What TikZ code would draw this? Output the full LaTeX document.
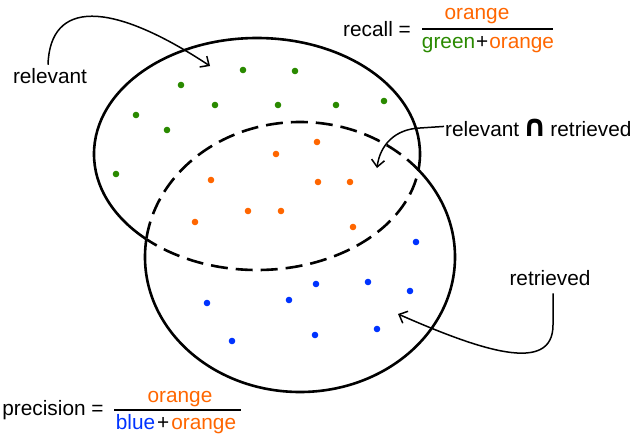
\documentclass[tikz,border=0pt]{standalone}
\usepackage{fontspec}
\setmainfont{Liberation Sans}
\newfontfamily\symfont{DejaVu Sans}
\usetikzlibrary{arrows.meta}
\definecolor{dgreen}{RGB}{42,138,0}
\definecolor{dorange}{RGB}{255,102,0}
\definecolor{dblue}{RGB}{0,51,255}
\begin{document}
\begin{tikzpicture}[x=1pt,y=-1pt,
  lbl/.style={inner sep=0pt,anchor=base,font=\fontsize{20.8}{24}\selectfont},
  setline/.style={line width=2.6pt},
  dashline/.style={line width=2.6pt,dash pattern=on 17pt off 8pt},
  pointer/.style={line width=1.5pt,-{Straight Barb[length=7pt,width=13pt,line width=1.5pt]}},
  gdot/.style={fill=dgreen},
  odot/.style={fill=dorange},
  bdot/.style={fill=dblue}]
\useasboundingbox (0,0) rectangle (630,437);
\def\relE{(257,154) ellipse [x radius=163, y radius=116]}
\def\retE{(300,257) ellipse [x radius=155, y radius=135]}
% dashed parts (inside the other set)
\begin{scope}
  \clip \retE;
  \draw[dashline] \relE;
\end{scope}
\begin{scope}
  \clip \relE;
  \draw[dashline] \retE;
\end{scope}
% solid parts (outside the other set)
\begin{scope}[even odd rule]
  \clip (-10,-10) rectangle (640,447) \retE;
  \draw[setline] \relE;
\end{scope}
\begin{scope}[even odd rule]
  \clip (-10,-10) rectangle (640,447) \relE;
  \draw[setline] \retE;
\end{scope}
% dots
\foreach \p in {(181,85),(243,70),(295,71),(136,115),(215,105),(278,105),(336,105),(384,101),(167,130),(116,174)}
  \fill[gdot] \p circle (3.3);
\foreach \p in {(276,154),(317,142),(211,180),(318,182),(350,182),(195,222),(248,211),(281,211),(353,227)}
  \fill[odot] \p circle (3.3);
\foreach \p in {(416,242),(207,303),(289,300),(316,284),(368,282),(410,291),(232,341),(315,335),(377,329)}
  \fill[bdot] \p circle (3.3);
% labels
\node[lbl] (relevant) at (50,83) {relevant};
\node[lbl] (retrieved) at (550,285) {retrieved};
\node[lbl,anchor=base west] (inter) at (445,136) {relevant\,{\symfont\bfseries\fontsize{30}{30}\selectfont ∩}\,retrieved};
% recall
\node[lbl] (recall) at (377,36) {recall =};
\node[lbl,text=dorange] (rnum) at (477,19) {orange};
\node[lbl] (rden) at (488,48) {\textcolor{dgreen}{green}\kern1pt+\kern1pt\textcolor{dorange}{orange}};
\coordinate (rbarA) at (422,29);
\coordinate (rbarB) at (553,29);
\draw[line width=1.4pt] (rbarA) -- (rbarB);
% precision
\node[lbl] (precision) at (53,415) {precision =};
\node[lbl,text=dorange] (pnum) at (180,402) {orange};
\node[lbl] (pden) at (176,429) {\textcolor{dblue}{blue}\kern2pt+\kern2pt\textcolor{dorange}{orange}};
\coordinate (pbarA) at (114,410);
\coordinate (pbarB) at (241,410);
\draw[line width=1.4pt] (pbarA) -- (pbarB);
% pointers
\coordinate (relT) at (210,66);
\coordinate (intT) at (377,168);
\coordinate (retT) at (398,314);
\path (relevant.north) ++(-2,-3) coordinate (relS);
\path (inter.west) ++(-1,-1) coordinate (intS);
\path (retrieved.south) ++(3,8) coordinate (retS);
\draw[pointer] (relS) .. controls (50,0) and (110,0) .. (relT);
\draw[pointer] (intS) -- (420,128) .. controls (395,129) and (380,145) .. (intT);
\draw[pointer] (retS) -- (553,325) .. controls (553,375) and (480,350) .. (retT);
\end{tikzpicture}
\end{document}
